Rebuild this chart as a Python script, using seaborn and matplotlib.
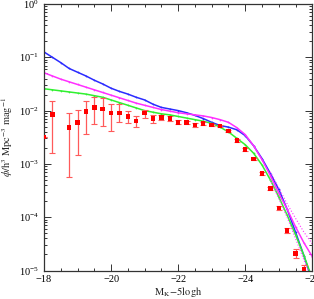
import numpy as np
import pandas as pd
import matplotlib
matplotlib.use('Agg')
import matplotlib.pyplot as plt
from matplotlib.ticker import MultipleLocator, LogLocator, NullFormatter
import seaborn as sns

# model curves, log10(phi) on a 0.25 mag grid from -18 to -26
mag_grid = [-18.0, -18.25, -18.5, -18.75, -19.0, -19.25, -19.5, -19.75,
            -20.0, -20.25, -20.5, -20.75, -21.0, -21.25, -21.5, -21.75,
            -22.0, -22.25, -22.5, -22.75, -23.0, -23.25, -23.5, -23.75,
            -24.0, -24.25, -24.5, -24.75, -25.0, -25.25, -25.5, -25.75, -26.0]
blue_log = [-0.90, -1.00, -1.10, -1.21, -1.28, -1.35, -1.43, -1.50,
            -1.58, -1.64, -1.69, -1.75, -1.80, -1.88, -1.94, -1.97,
            -2.00, -2.04, -2.09, -2.15, -2.22, -2.28, -2.31, -2.36,
            -2.47, -2.66, -2.90, -3.18, -3.48, -3.85, -4.28, -4.72, -5.20]
magenta_log = [-1.29, -1.35, -1.41, -1.46, -1.51, -1.56, -1.61, -1.66,
               -1.71, -1.76, -1.81, -1.86, -1.90, -1.94, -1.98, -2.01,
               -2.04, -2.06, -2.08, -2.10, -2.13, -2.17, -2.22, -2.32,
               -2.45, -2.66, -2.92, -3.22, -3.55, -3.85, -4.18, -4.48, -4.74]
green_log = [-1.59, -1.61, -1.63, -1.65, -1.67, -1.69, -1.72, -1.75,
             -1.80, -1.85, -1.90, -1.95, -2.00, -2.03, -2.06, -2.08,
             -2.11, -2.14, -2.17, -2.20, -2.24, -2.31, -2.40, -2.52,
             -2.64, -2.80, -3.02, -3.30, -3.62, -3.96, -4.33, -4.72, -5.15]

# dotted magenta bounds at the bright end
band_mag = [-24.75, -25.0, -25.25, -25.5, -25.75, -26.0]
band_hi_log = [-3.15, -3.45, -3.75, -4.02, -4.28, -4.50]
band_lo_log = [-3.30, -3.65, -4.00, -4.40, -4.80, -5.20]

# observed luminosity function (red squares with error bars)
obs_mag = [-18.0, -18.25, -18.75, -19.0, -19.25, -19.5, -19.75, -20.0,
           -20.25, -20.5, -20.75, -21.0, -21.25, -21.5, -21.75, -22.0,
           -22.25, -22.5, -22.75, -23.0, -23.25, -23.5, -23.75, -24.0,
           -24.25, -24.5, -24.75, -25.0, -25.25, -25.5, -25.75]
obs_log = [-2.49, -2.07, -2.32, -2.22, -2.02, -1.94, -1.97, -2.05,
           -2.04, -2.11, -2.19, -2.05, -2.15, -2.13, -2.15, -2.22,
           -2.22, -2.27, -2.24, -2.27, -2.29, -2.38, -2.56, -2.73,
           -2.91, -3.18, -3.46, -3.83, -4.25, -4.68, -4.98]
obs_hi_log = [-2.49, -1.82, -2.04, -1.99, -1.82, -1.74, -1.77, -1.87,
              -1.88, -2.01, -2.10, -1.98, -2.09, -2.08, -2.10, -2.18,
              -2.19, -2.24, -2.21, -2.25, -2.27, -2.36, -2.54, -2.71,
              -2.89, -3.15, -3.43, -3.79, -4.20, -4.60, -4.90]
obs_lo_log = [-2.49, -2.79, -3.25, -2.83, -2.44, -2.26, -2.29, -2.39,
              -2.21, -2.24, -2.31, -2.13, -2.23, -2.18, -2.20, -2.26,
              -2.25, -2.30, -2.27, -2.29, -2.31, -2.40, -2.58, -2.75,
              -2.93, -3.21, -3.49, -3.87, -4.30, -4.76, -5.08]

sns.set_style('ticks')
plt.rcParams['font.family'] = ['Liberation Serif', 'DejaVu Serif']
plt.rcParams['mathtext.fontset'] = 'stix'

fig = plt.figure(figsize=(3.14, 2.99), dpi=100)
ax = fig.add_axes([44 / 314, 1 - 270.5 / 299, 268.3 / 314, 266.5 / 299])

models = pd.DataFrame({
    'mag': mag_grid * 3,
    'phi': 10 ** np.array(blue_log + magenta_log + green_log),
    'model': ['blue'] * len(mag_grid) + ['magenta'] * len(mag_grid) + ['green'] * len(mag_grid),
})
palette = {'blue': '#2b2bff', 'magenta': '#ff30ff', 'green': '#30f030'}
sns.lineplot(data=models, x='mag', y='phi', hue='model', palette=palette,
             lw=1.1, marker='.', markersize=2.5, markeredgewidth=0,
             legend=False, ax=ax, sort=False)

for hi in (band_hi_log, band_lo_log):
    sns.lineplot(x=band_mag, y=10 ** np.array(hi), color='#ff30ff', lw=0.8,
                 linestyle=':', ax=ax)

obs_phi = 10 ** np.array(obs_log)
yerr = [obs_phi - 10 ** np.array(obs_lo_log), 10 ** np.array(obs_hi_log) - obs_phi]
ax.errorbar(obs_mag, obs_phi, yerr=yerr, fmt='none', ecolor='#ff5a5a',
            elinewidth=0.9, capsize=2, capthick=0.8, zorder=3)
sns.scatterplot(x=obs_mag, y=obs_phi, marker='s', s=10, color='#ff0000',
                edgecolor='none', ax=ax, zorder=4)

ax.set_yscale('log')
ax.set_xlim(-18, -26)
ax.set_ylim(1e-5, 1)

ax.xaxis.set_major_locator(MultipleLocator(2))
ax.xaxis.set_minor_locator(MultipleLocator(0.5))
ax.yaxis.set_major_locator(LogLocator(base=10, numticks=10))
ax.yaxis.set_minor_locator(LogLocator(base=10, subs=np.arange(2, 10), numticks=10))
ax.yaxis.set_minor_formatter(NullFormatter())
ax.tick_params(which='both', direction='in', top=True, right=True,
               labelsize=7.5, width=0.7, colors='#333333', labelcolor='black')
ax.tick_params(which='major', length=5)
ax.tick_params(which='minor', length=2.5)
ax.tick_params(axis='x', pad=3)
ax.set_xticks([-18, -20, -22, -24, -26])
ax.set_xticklabels(['\u221218', '\u221220', '\u221222', '\u221224', '\u221226'])
for s in ax.spines.values():
    s.set_linewidth(0.9)
    s.set_color('#333333')

ax.set_xlabel(r'$\mathrm{M_K\!-\!5logh}$', fontsize=7.5, labelpad=1)
ax.xaxis.set_label_coords(0.5, -0.055)
ax.set_ylabel(r'$\phi/\mathrm{h^3\ Mpc^{-3}\ mag^{-1}}$', fontsize=7.5, labelpad=3)

fig.savefig('out.png', dpi=100)
